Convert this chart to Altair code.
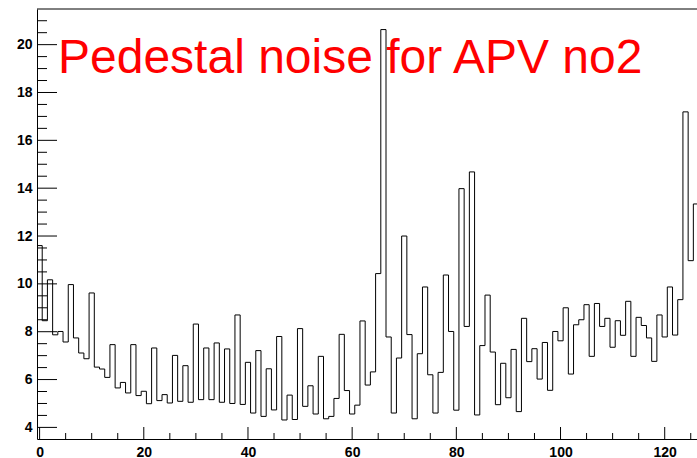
import altair as alt
import pandas as pd

# Histogram bin contents (bins centred on channel 0..126, width 1)
channel = list(range(127))
noise = [
    11.6, 8.46, 10.17, 7.87, 8.01, 7.57, 9.97, 7.74, 7.11, 6.87,
    9.62, 6.52, 6.44, 6.09, 7.46, 5.65, 5.88, 5.44, 7.46, 5.33,
    5.51, 4.99, 7.32, 5.12, 5.37, 5.02, 7.01, 5.09, 6.58, 5.05,
    8.32, 5.16, 7.32, 5.16, 7.53, 5.05, 7.28, 5.00, 8.70, 4.96,
    6.72, 4.60, 7.21, 4.46, 6.45, 4.73, 7.80, 4.31, 5.35, 4.33,
    8.13, 4.88, 5.74, 4.56, 6.97, 4.36, 4.46, 5.21, 7.89, 5.54,
    4.56, 4.93, 8.45, 5.77, 6.32, 10.43, 20.63, 7.78, 4.60, 6.90,
    12.0, 7.88, 4.36, 7.08, 9.87, 6.20, 4.60, 6.30, 10.37, 8.01,
    4.72, 13.98, 8.22, 14.68, 4.52, 7.42, 9.53, 7.15, 4.95, 6.68,
    5.24, 7.26, 4.66, 8.56, 6.75, 7.29, 6.02, 7.55, 5.55, 8.01,
    7.62, 9.00, 6.23, 8.29, 8.50, 9.13, 6.97, 9.18, 8.22, 8.56,
    7.35, 8.46, 7.85, 9.27, 6.97, 8.60, 8.26, 7.74, 6.76, 8.70,
    7.78, 9.87, 7.86, 9.34, 17.19, 10.97, 13.34,
]

title_text = "Pedestal noise for APV no2"

x_labels = [0, 20, 40, 60, 80, 100, 120]
y_labels = [4, 6, 8, 10, 12, 14, 16, 18, 20]
x_minor_ticks = [v for v in range(0, 130, 5) if v not in x_labels]
y_minor_ticks = [v / 2 for v in range(8, 43) if (v / 2) not in y_labels]

W, H = 660, 430
X_DOMAIN = [-0.5, 126.2]
Y_DOMAIN = [3.515, 21.49]

xs = alt.Scale(domain=X_DOMAIN, nice=False, zero=False)
ys = alt.Scale(domain=Y_DOMAIN, nice=False, zero=False)

x_axis = alt.Axis(values=x_labels, title=None, grid=False, ticks=False,
                  labelPadding=6, domainColor="black", domainWidth=1)
y_axis = alt.Axis(values=y_labels, title=None, grid=False, ticks=False,
                  labelPadding=5, domainColor="black", domainWidth=1)

# step outline: left edges of each bin, plus closing right edge
edges = [c - 0.5 for c in channel] + [channel[-1] + 0.5]
levels = noise + [noise[-1]]
hist_df = pd.DataFrame({"edge": edges, "value": levels})

hist = alt.Chart(hist_df).mark_line(
    interpolate="step-after", color="black", strokeWidth=1, clip=True
).encode(
    x=alt.X("edge:Q", scale=xs, axis=x_axis),
    y=alt.Y("value:Q", scale=ys, axis=y_axis),
)

def yticks(vals, length):
    df = pd.DataFrame({"t": vals})
    return alt.Chart(df).mark_rule(color="black", strokeWidth=1).encode(
        y=alt.Y("t:Q", scale=ys, axis=y_axis),
        x=alt.value(0),
        x2=alt.value(length),
    )

def xticks(vals, length):
    df = pd.DataFrame({"t": vals})
    return alt.Chart(df).mark_rule(color="black", strokeWidth=1, clip=True).encode(
        x=alt.X("t:Q", scale=xs, axis=x_axis),
        y=alt.value(H),
        y2=alt.value(H - length),
    )

frame_top = alt.Chart(pd.DataFrame({"a": [0]})).mark_rule(
    color="black", strokeWidth=1
).encode(x=alt.value(0), x2=alt.value(W), y=alt.value(0))

title = alt.Chart(pd.DataFrame({"label": [title_text]})).mark_text(
    align="left", baseline="alphabetic", font="Liberation Sans",
    fontSize=48, color="#ff0000"
).encode(text="label:N", x=alt.value(21), y=alt.value(64))

chart = alt.layer(
    frame_top,
    yticks(y_labels, 20), yticks(y_minor_ticks, 10),
    xticks(x_labels, 12), xticks(x_minor_ticks, 6),
    hist, title,
).properties(
    width=W, height=H,
    padding={"left": 37, "top": 9, "right": 0, "bottom": 19},
    autosize="none",
).configure_view(stroke=None).configure_axis(
    labelFont="Liberation Sans", labelFontWeight="bold", labelFontSize=14,
    labelColor="black",
)

chart.save("out.html", embed_options={"renderer": "svg", "actions": False})
